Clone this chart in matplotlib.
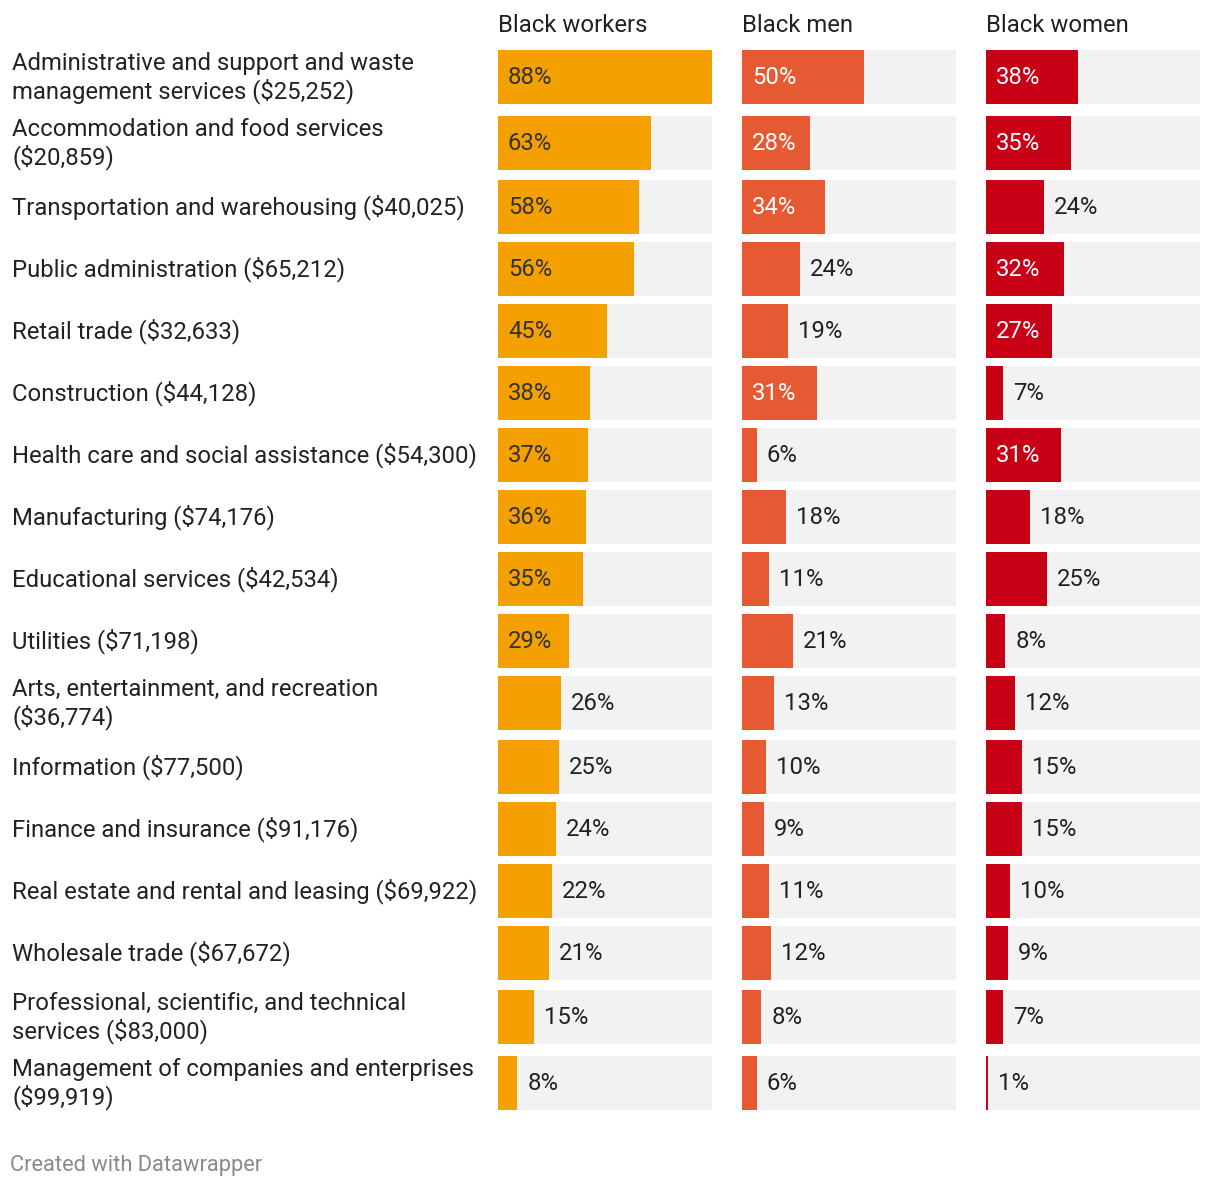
import matplotlib
matplotlib.use('Agg')
import matplotlib.pyplot as plt

plt.rcParams['font.family'] = ['Roboto', 'DejaVu Sans']

industries = [
    "Administrative and support and waste\nmanagement services ($25,252)",
    "Accommodation and food services\n($20,859)",
    "Transportation and warehousing ($40,025)",
    "Public administration ($65,212)",
    "Retail trade ($32,633)",
    "Construction ($44,128)",
    "Health care and social assistance ($54,300)",
    "Manufacturing ($74,176)",
    "Educational services ($42,534)",
    "Utilities ($71,198)",
    "Arts, entertainment, and recreation\n($36,774)",
    "Information ($77,500)",
    "Finance and insurance ($91,176)",
    "Real estate and rental and leasing ($69,922)",
    "Wholesale trade ($67,672)",
    "Professional, scientific, and technical\nservices ($83,000)",
    "Management of companies and enterprises\n($99,919)",
]
black_workers = [88, 63, 58, 56, 45, 38, 37, 36, 35, 29, 26, 25, 24, 22, 21, 15, 8]
black_men = [50, 28, 34, 24, 19, 31, 6, 18, 11, 21, 13, 10, 9, 11, 12, 8, 6]
black_women = [38, 35, 24, 32, 27, 7, 31, 18, 25, 8, 12, 15, 15, 10, 9, 7, 1]

columns = ["Black workers", "Black men", "Black women"]
series = [black_workers, black_men, black_women]
colors = ["#f3a000", "#e55a32", "#c80016"]
inside_text = ["#333333", "white", "white"]

W, H = 1220, 1188
px = 0.72  # px -> pt at dpi 100
fs = 23.9 * px
fig = plt.figure(figsize=(W / 100, H / 100), dpi=100)

# row layout in pixels: gap after each row (taller rows for two-line labels)
bar_h = 54
gaps = [12, 10, 8, 8, 8, 8, 8, 8, 8, 8, 10, 8, 8, 8, 10, 12]
centers = []
y = 50
for k in range(len(industries)):
    centers.append(y + bar_h / 2)
    if k < len(gaps):
        y += bar_h + gaps[k]

xmax = max(max(s) for s in series)
col_left = [498, 742, 986]
col_w = 214

# row labels
lab_ax = fig.add_axes([0, 0, 1, 1])
lab_ax.set_xlim(0, W)
lab_ax.set_ylim(H, 0)
lab_ax.axis('off')
for c, lab in zip(centers, industries):
    dy = 1 if "\n" in lab else 0
    lab_ax.text(12, c + dy, lab, ha='left', va='center', fontsize=fs,
                color='#222222', linespacing=1.17)
lab_ax.text(10, 1165, "Created with Datawrapper", ha='left', va='center',
            fontsize=21.9 * px, color='#8a8a8a')

for i in range(3):
    ax = fig.add_axes([col_left[i] / W, 0, col_w / W, 1])
    ax.set_xlim(0, xmax)
    ax.set_ylim(H, 0)
    ax.axis('off')
    ax.barh(centers, [xmax] * len(centers), height=bar_h, color='#f2f2f2')
    ax.barh(centers, series[i], height=bar_h, color=colors[i])
    ax.text(0, 25, columns[i], ha='left', va='center', fontsize=fs,
            color='#222222')
    pad = 10 * xmax / col_w
    for c, v in zip(centers, series[i]):
        if v >= 27:
            ax.text(pad, c, f"{v}%", ha='left', va='center',
                    fontsize=fs, color=inside_text[i])
        else:
            ax.text(v + pad, c, f"{v}%", ha='left', va='center',
                    fontsize=fs, color='#222222')

fig.savefig('out.png', dpi=100)
